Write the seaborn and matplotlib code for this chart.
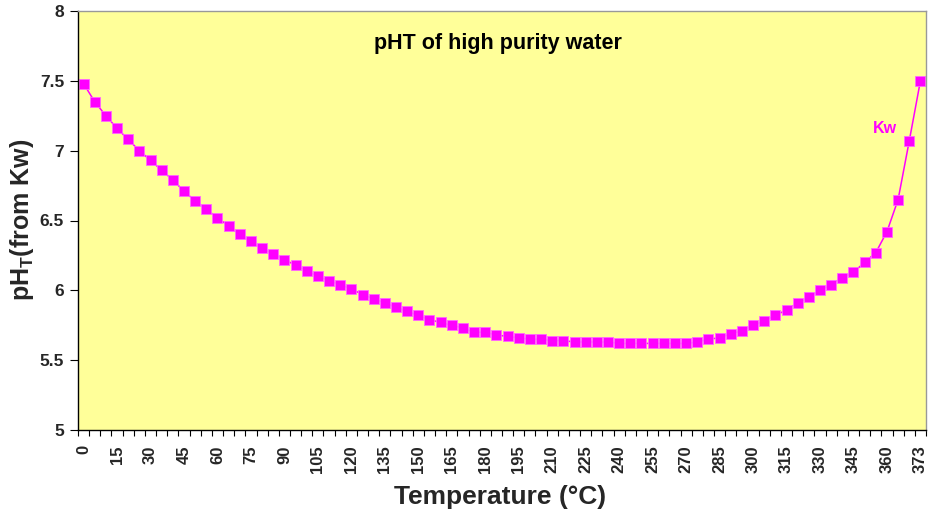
import matplotlib
matplotlib.use("Agg")
import matplotlib.pyplot as plt
import seaborn as sns
import pandas as pd
import numpy as np
from matplotlib.ticker import FixedLocator

temperatures = [0, 5, 10, 15, 20, 25, 30, 35, 40, 45, 50, 55, 60, 65, 70, 75, 80, 85, 90, 95,
                100, 105, 110, 115, 120, 125, 130, 135, 140, 145, 150, 155, 160, 165, 170, 175,
                180, 185, 190, 195, 200, 205, 210, 215, 220, 225, 230, 235, 240, 245, 250, 255,
                260, 265, 270, 275, 280, 285, 290, 295, 300, 305, 310, 315, 320, 325, 330, 335,
                340, 345, 350, 355, 360, 365, 370, 373]
ph_values = [7.48, 7.35, 7.25, 7.16, 7.08, 7.00, 6.93, 6.86, 6.79, 6.71, 6.64, 6.58, 6.52, 6.46,
             6.40, 6.35, 6.30, 6.26, 6.22, 6.18, 6.14, 6.10, 6.07, 6.04, 6.01, 5.97, 5.94, 5.91,
             5.88, 5.85, 5.82, 5.79, 5.77, 5.75, 5.73, 5.70, 5.70, 5.68, 5.67, 5.66, 5.65, 5.65,
             5.64, 5.64, 5.63, 5.63, 5.63, 5.63, 5.62, 5.62, 5.62, 5.62, 5.62, 5.62, 5.62, 5.63,
             5.65, 5.66, 5.69, 5.71, 5.75, 5.78, 5.82, 5.86, 5.91, 5.95, 6.00, 6.04, 6.09, 6.13,
             6.20, 6.27, 6.42, 6.65, 7.07, 7.50]
series_label = "Kw"
title_text = "pHT of high purity water"
x_label = "Temperature (°C)"
y_ticks = [5, 5.5, 6, 6.5, 7, 7.5, 8]

sns.set_theme(style="white")
plt.rcParams['font.family'] = ['Liberation Sans', 'DejaVu Sans']
plt.rcParams['mathtext.fontset'] = 'custom'
plt.rcParams['mathtext.bf'] = 'Liberation Sans:bold'
plt.rcParams['mathtext.rm'] = 'Liberation Sans'

df = pd.DataFrame({"idx": np.arange(len(temperatures)), "temp": temperatures, "ph": ph_values})

fig = plt.figure(figsize=(9.31, 5.17), dpi=100)
ax = fig.add_axes([78 / 931, 1 - 430 / 517, 848 / 931, 419 / 517])
ax.set_facecolor("#FFFF99")

sns.lineplot(data=df, x="idx", y="ph", ax=ax, color="#FF00FF", linewidth=1.1,
             marker="s", markersize=7, markerfacecolor="#FF00FF",
             markeredgecolor="#FF66FF", markeredgewidth=0.6)

n = len(temperatures)
ax.set_xlim(-0.5, n - 0.5)
ax.set_ylim(5, 8)
ax.set_yticks(y_ticks)
ax.set_yticklabels([f"{v:g}" for v in y_ticks], fontsize=12.5, fontweight="bold")

major_idx = list(range(0, n, 3))
ax.xaxis.set_major_locator(FixedLocator(major_idx))
ax.set_xticklabels([str(temperatures[i]) for i in major_idx], rotation=90,
                   fontsize=12, fontweight="bold")
ax.xaxis.set_minor_locator(FixedLocator(list(np.arange(-0.5, n, 1.0))))
ax.tick_params(axis="x", which="major", length=0, pad=11)
ax.tick_params(axis="x", which="minor", length=4, width=0.8, color="black", direction="out", bottom=True)
ax.tick_params(axis="y", which="major", length=6, width=0.8, color="black", direction="out", left=True, pad=4)

for s in ["left", "bottom"]:
    ax.spines[s].set_color("black")
    ax.spines[s].set_linewidth(1.0)
for s in ["top", "right"]:
    ax.spines[s].set_color("#999999")
    ax.spines[s].set_linewidth(1.0)

ax.set_xlabel(x_label, fontsize=19, fontweight="bold")
ax.xaxis.set_label_coords((500 - 78) / 848, (430 - 497) / 419)
ax.xaxis.label.set_va("center")
ax.set_ylabel(r"pH$_\mathbf{T}$(from Kw)", fontsize=18, fontweight="bold")
ax.yaxis.set_label_coords((22 - 78) / 848, (430 - 220) / 419)
ax.yaxis.label.set_va("center")

ax.text(0.495, 0.922, title_text, transform=ax.transAxes, ha="center", va="center",
        fontsize=15.5, fontweight="bold", color="black")
ax.text(71.8, 7.16, series_label, ha="center", va="center", fontsize=11.5,
        fontweight="bold", color="#FF00FF")

fig.savefig("out.png", dpi=100)
